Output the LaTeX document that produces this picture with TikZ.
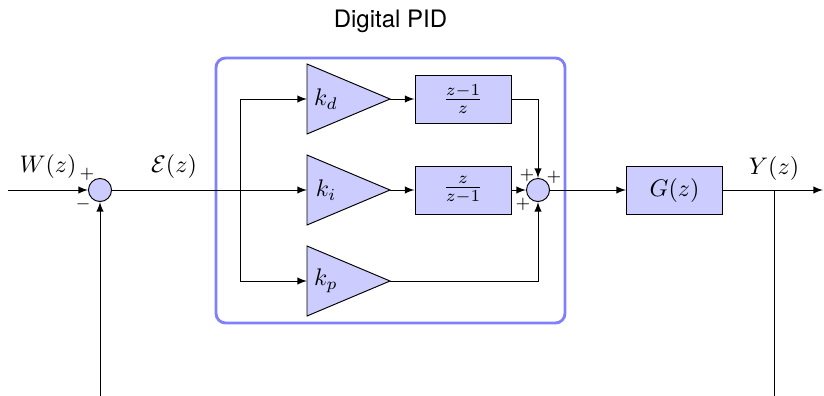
\documentclass[tikz,border=0pt]{standalone}
\usepackage{fontspec}
\setsansfont{TeX Gyre Heros}
\usetikzlibrary{calc}
\begin{document}
\begin{tikzpicture}[x=0.41667pt,y=-0.41667pt,>=latex,
  blk/.style={draw,fill=blue!20,minimum width=40pt,minimum height=20pt,inner sep=0pt},
  sumnode/.style={draw,circle,fill=blue!20,minimum size=9.6pt,inner sep=0pt},
  gainshape/.style={draw,fill=blue!20,line join=miter},
  sgn/.style={font=\scriptsize,inner sep=0pt},
  pidframe/.style={draw=blue!50,line width=1.2pt,rounded corners=4pt}]
\useasboundingbox (0,0) rectangle (824,395);
\clip (0,0) rectangle (824,395);

% controller frame and title
\draw[pidframe] (216,58) rectangle (565,323);
\node[font=\sffamily] (title) at (390.5,21) {Digital PID};

% summing junctions and blocks
\node[sumnode] (s1) at (100,190) {};
\node[sumnode] (s2) at (538,190) {};
\node[blk] (bd) at (463,99) {$\frac{z-1}{z}$};
\node[blk] (bi) at (463,190) {$\frac{z}{z-1}$};
\node[blk] (g) at (674.5,190) {$G(z)$};

% gain triangles
\foreach \n/\c in {d/99,i/190,p/281} {
  \draw[gainshape] (307,\c-35) -- (390,\c) -- (307,\c+35) -- cycle;
  \coordinate (k\n in) at (307,\c);
  \coordinate (k\n out) at (390,\c);
  \node (k\n) at (326,\c) {$k_\n$};
}

% signal coordinates
\coordinate (win) at (8,190);
\coordinate (br) at (240,190);
\coordinate (yout) at (823,190);
\coordinate (yb) at (774,190);
\coordinate (fb) at (774,430);

% connectors
\draw[->] (win) -- (s1);
\draw[->] (s1) -- (kiin);
\draw[->] (br) |- (kdin);
\draw[->] (br) |- (kpin);
\draw[->] (kdout) -- (bd);
\draw[->] (kiout) -- (bi);
\draw[->] (bd) -| (s2);
\draw[->] (bi) -- (s2);
\draw[->] (kpout) -| (s2);
\draw[->] (s2) -- (g);
\draw[->] (g) -- (yout);
\draw[->] (yb) -- (fb) -| (s1);

% signal labels and signs
\node (wl) at (48,166) {$W(z)$};
\node (el) at (174,166) {$\mathcal{E}(z)$};
\node (yl) at (774,168) {$Y(z)$};
\node[sgn] (p1) at (87,174) {$+$};
\node[sgn] (m1) at (83,204) {$-$};
\node[sgn] (p2) at (527,175) {$+$};
\node[sgn] (p3) at (554,177) {$+$};
\node[sgn] (p4) at (523,204) {$+$};
\end{tikzpicture}
\end{document}
